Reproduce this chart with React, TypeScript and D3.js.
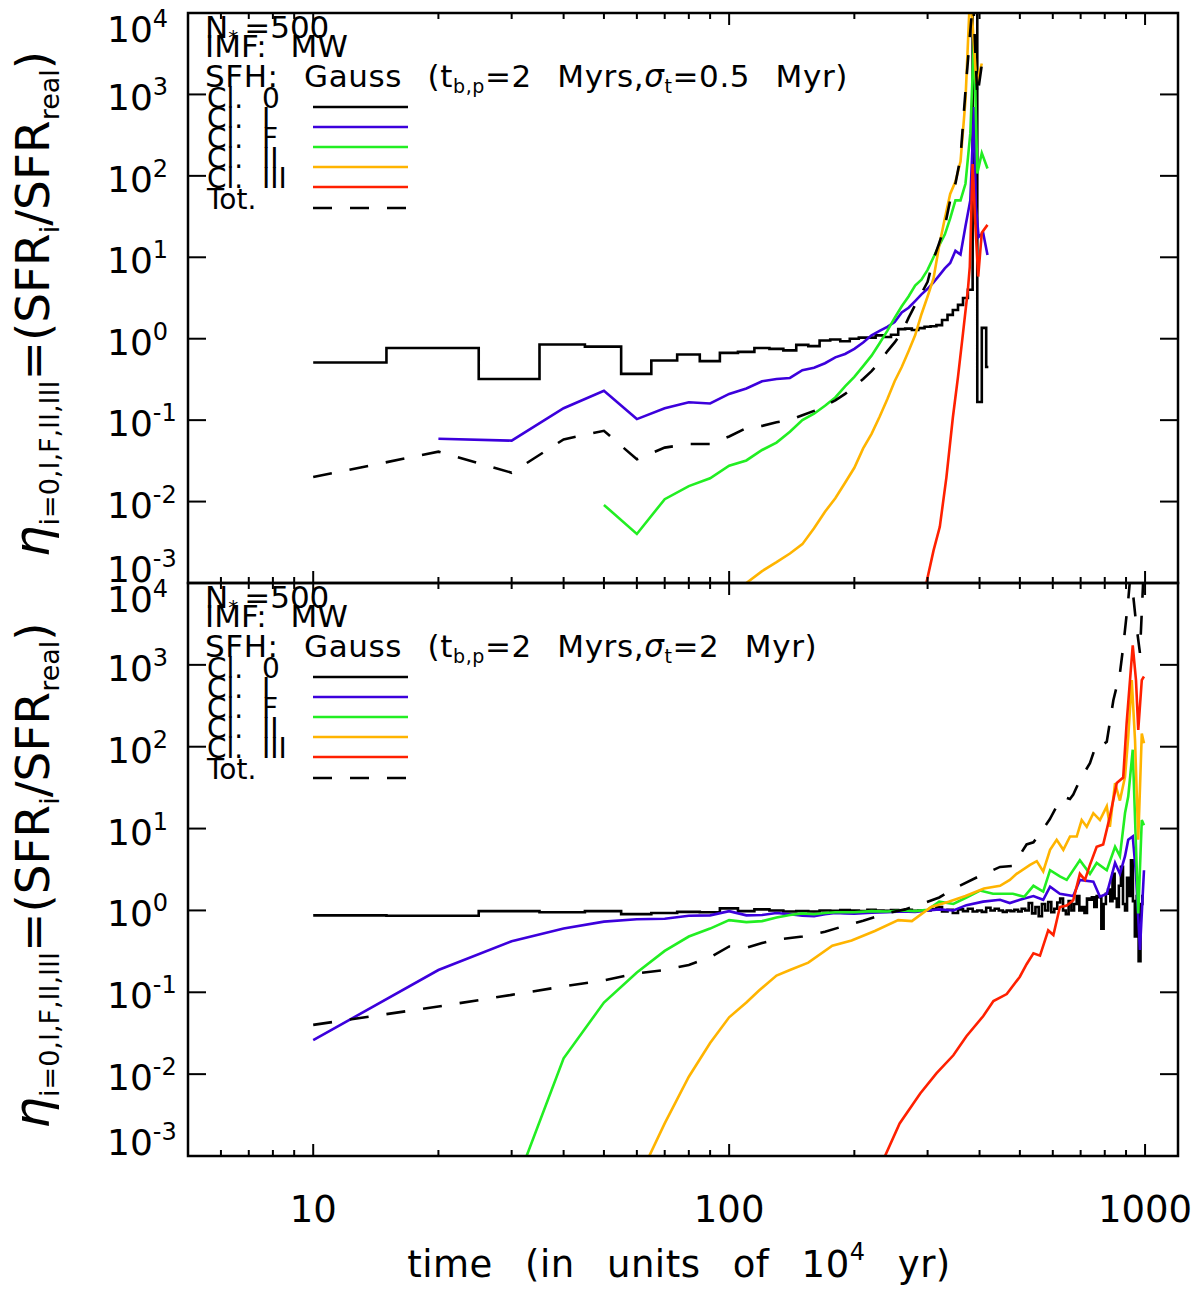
import { useEffect, useRef } from 'react';
import * as d3 from 'd3';

type Pt = [number, number];

// ---- top panel (sigma_t = 0.5 Myr) ----
const topCl0: Pt[] = [
  [10, 0.51], [20, 0.77], [30, 0.32], [40, 0.85], [50, 0.8], [60, 0.37], [70, 0.54], [80, 0.64],
  [90, 0.53], [100, 0.67], [110, 0.69], [120, 0.77], [130, 0.75], [140, 0.72], [150, 0.84],
  [160, 0.81], [170, 0.95], [180, 0.98], [190, 0.93], [200, 1.0], [210, 1.03], [220, 1.03],
  [230, 1.1], [240, 1.05], [250, 1.12], [260, 1.31], [270, 1.33], [280, 1.28], [290, 1.35],
  [300, 1.4], [310, 1.42], [320, 1.47], [330, 1.7], [340, 1.96], [350, 2.25], [360, 2.6],
  [370, 3.16], [380, 4.0], [390, 30000], [400, 0.167], [410, 1.36], [420, 0.45],
];
const topClI: Pt[] = [
  [20, 0.059], [30, 0.056], [40, 0.14], [50, 0.23], [60, 0.103], [70, 0.14], [80, 0.166],
  [90, 0.16], [100, 0.21], [110, 0.245], [120, 0.3], [130, 0.32], [140, 0.33], [150, 0.41],
  [160, 0.44], [170, 0.5], [180, 0.59], [190, 0.65], [200, 0.75], [210, 0.9], [220, 1.1],
  [230, 1.25], [240, 1.4], [250, 1.6], [260, 2.1], [270, 2.4], [280, 2.9], [290, 3.5],
  [300, 4.1], [310, 4.9], [320, 6.0], [330, 7.3], [340, 8.5], [350, 12], [360, 10.8],
  [370, 24], [380, 50], [388, 700], [392, 42], [398, 17.8], [408, 20], [418, 10.7],
];
const topClF: Pt[] = [
  [50, 0.0091], [60, 0.004], [70, 0.0107], [80, 0.0155], [90, 0.0193], [100, 0.0276],
  [110, 0.032], [120, 0.043], [130, 0.053], [140, 0.072], [150, 0.1], [160, 0.12], [170, 0.15],
  [180, 0.19], [190, 0.26], [200, 0.34], [210, 0.46], [220, 0.62], [230, 0.88], [240, 1.25],
  [250, 1.8], [260, 2.5], [270, 3.3], [280, 4.5], [290, 5.3], [300, 7.0], [310, 10], [320, 14],
  [330, 19], [340, 30], [350, 50], [360, 50], [370, 80], [380, 330], [388, 5100], [395, 107],
  [405, 190], [418, 123],
];
const topClII: Pt[] = [
  [100, 0.0007], [110, 0.001], [120, 0.0014], [130, 0.0018], [140, 0.0023], [150, 0.003],
  [160, 0.0047], [170, 0.0075], [180, 0.011], [190, 0.017], [200, 0.026], [210, 0.045],
  [220, 0.068], [230, 0.11], [240, 0.18], [250, 0.3], [260, 0.45], [270, 0.7], [280, 1.1],
  [290, 2.0], [300, 3.3], [310, 5.5], [320, 14], [330, 30], [340, 60], [350, 85], [360, 150],
  [370, 850], [380, 20000], [393, 1370], [405, 2400],
];
const topClIII: Pt[] = [
  [298, 0.001], [310, 0.0025], [321, 0.0049], [333, 0.02], [345, 0.107], [355, 0.34],
  [365, 1.17], [375, 4.0], [379, 7.7], [385, 140], [390, 31], [397, 5.8], [405, 20], [418, 25],
];
const topTot: Pt[] = [
  [10, 0.02], [20, 0.041], [30, 0.0226], [40, 0.058], [50, 0.074], [60, 0.033], [70, 0.046],
  [80, 0.051], [90, 0.051], [100, 0.063], [110, 0.08], [120, 0.085], [130, 0.094], [140, 0.1],
  [150, 0.115], [160, 0.13], [170, 0.15], [180, 0.175], [190, 0.21], [200, 0.26], [210, 0.32],
  [220, 0.4], [230, 0.52], [240, 0.7], [250, 0.9], [260, 1.2], [270, 1.8], [280, 2.6],
  [290, 3.6], [300, 5.0], [310, 9.5], [320, 15], [330, 24], [340, 50], [350, 80], [360, 170],
  [370, 1100], [380, 6000], [386, 15000], [395, 940], [405, 2300], [416, 2400],
];

// ---- bottom panel (sigma_t = 2 Myr) ----
const botCl0: Pt[] = [
  [10, 0.87], [20, 0.86], [30, 0.98], [40, 0.95], [50, 0.98], [60, 0.9], [70, 0.93], [80, 0.96],
  [90, 0.95], [100, 1.06], [110, 0.98], [120, 1.03], [130, 1.0], [140, 0.97], [150, 0.98],
  [160, 0.97], [170, 1.0], [180, 0.99], [190, 1.01], [200, 1.0], [210, 0.98], [220, 1.02],
  [230, 1.0], [240, 0.99], [250, 1.01], [260, 0.98], [270, 1.02], [280, 0.99], [290, 1.0],
  [300, 1.0], [310, 1.04], [320, 1.1], [330, 0.97], [340, 1.02], [350, 0.93], [360, 1.03],
  [370, 0.98], [380, 1.05], [390, 0.97], [400, 1.0], [410, 0.96], [420, 1.08], [430, 1.0],
  [440, 1.05], [450, 1.0], [460, 0.96], [470, 1.0], [480, 0.98], [490, 1.02], [500, 0.97],
  [510, 1.05], [520, 1.0], [530, 1.23], [540, 0.92], [550, 1.1], [560, 0.85], [570, 1.2],
  [580, 1.0], [590, 1.27], [600, 0.95], [610, 1.05], [620, 1.25], [630, 1.4], [640, 1.0],
  [650, 0.9], [660, 1.3], [670, 1.0], [680, 1.2], [690, 1.5], [700, 1.0], [710, 1.1],
  [720, 0.93], [730, 1.4], [740, 1.35], [750, 1.45], [760, 1.1], [770, 1.5], [780, 1.45],
  [790, 0.6], [800, 1.2], [810, 1.6], [820, 1.8], [830, 1.3], [840, 2.8], [850, 1.4],
  [860, 1.1], [870, 2.0], [880, 3.4], [890, 1.2], [900, 1.0], [910, 2.5], [920, 1.5],
  [930, 4.1], [940, 1.3], [950, 0.48], [960, 1.5], [970, 0.24], [980, 1.2], [990, 1.5],
];
const botClI: Pt[] = [
  [10, 0.026], [20, 0.187], [30, 0.42], [40, 0.6], [50, 0.73], [60, 0.78], [70, 0.79],
  [80, 0.86], [90, 0.87], [100, 0.98], [110, 0.87], [120, 0.88], [130, 0.93], [140, 0.9],
  [150, 0.86], [160, 0.85], [170, 0.9], [180, 0.93], [190, 0.92], [200, 0.91], [220, 0.94],
  [240, 0.95], [260, 0.97], [280, 0.96], [300, 1.0], [320, 1.03], [346, 1.0], [372, 1.16],
  [408, 1.28], [448, 1.35], [473, 1.23], [500, 1.35], [539, 1.5], [569, 1.35], [591, 1.95],
  [624, 1.6], [672, 1.5], [697, 2.36], [751, 2.25], [779, 1.47], [809, 1.6], [847, 3.8],
  [870, 2.8], [895, 4.6], [911, 7.3], [934, 8.0], [951, 2.8], [972, 0.33], [994, 3.1],
];
const botClF: Pt[] = [
  [30, 0.00033], [40, 0.0156], [50, 0.075], [60, 0.174], [70, 0.32], [80, 0.48], [90, 0.6],
  [100, 0.76], [110, 0.72], [120, 0.74], [130, 0.82], [140, 0.88], [150, 0.92], [160, 0.9],
  [170, 0.93], [180, 0.95], [200, 0.95], [220, 0.98], [240, 0.97], [260, 1.0], [280, 0.98],
  [300, 1.02], [320, 1.28], [346, 1.2], [372, 1.44], [401, 1.75], [431, 1.6], [448, 1.6],
  [481, 1.6], [512, 1.47], [539, 2.0], [569, 1.7], [591, 3.1], [624, 2.6], [648, 2.36],
  [697, 4.1], [737, 2.8], [765, 3.8], [809, 3.1], [847, 6.0], [870, 4.6], [895, 15.5],
  [911, 24.6], [934, 92], [951, 6.0], [963, 0.92], [982, 12.7], [994, 11],
];
const botClII: Pt[] = [
  [60, 0.00048], [70, 0.0025], [80, 0.0093], [90, 0.024], [100, 0.0495], [110, 0.075],
  [118, 0.105], [130, 0.16], [140, 0.187], [155, 0.23], [177, 0.37], [197, 0.43], [224, 0.56],
  [255, 0.76], [275, 0.74], [306, 1.1], [337, 1.28], [370, 1.5], [410, 1.85], [448, 2.0],
  [473, 2.36], [491, 2.8], [529, 3.6], [549, 4.0], [569, 3.0], [591, 5.5], [613, 7.3],
  [636, 5.5], [660, 8.0], [685, 8.0], [704, 12.7], [724, 10.5], [751, 15.4], [779, 12.7],
  [809, 18.7], [823, 10.5], [847, 36], [870, 22], [895, 43], [911, 131], [929, 650],
  [946, 120], [963, 7.3], [982, 145], [994, 110],
];
const botClIII: Pt[] = [
  [237, 0.001], [257, 0.0025], [288, 0.0058], [315, 0.0102], [346, 0.017], [372, 0.029],
  [408, 0.051], [432, 0.078], [465, 0.095], [500, 0.155], [519, 0.22], [539, 0.3], [559, 0.28],
  [585, 0.57], [602, 0.5], [624, 1.1], [648, 1.15], [672, 1.33], [697, 2.8], [717, 2.36],
  [737, 3.6], [765, 6.0], [793, 6.4], [823, 14], [855, 36], [886, 42], [903, 195], [920, 650],
  [934, 1730], [951, 650], [963, 160], [982, 650], [994, 720],
];
const botTot: Pt[] = [
  [10, 0.04], [20, 0.067], [30, 0.093], [40, 0.118], [50, 0.14], [60, 0.17], [70, 0.187],
  [80, 0.216], [90, 0.267], [100, 0.363], [110, 0.35], [120, 0.4], [130, 0.44], [150, 0.48],
  [170, 0.55], [190, 0.65], [210, 0.75], [240, 0.93], [265, 1.03], [290, 1.2], [320, 1.44],
  [356, 1.97], [401, 2.65], [448, 3.4], [481, 3.5], [519, 6.4], [539, 6.8], [560, 8.8],
  [590, 13], [613, 18.7], [636, 24.5], [660, 23], [672, 26], [697, 39], [737, 63], [765, 110],
  [790, 105], [809, 115], [839, 370], [870, 790], [886, 1660], [895, 2700], [911, 6200],
  [920, 11000], [934, 8000], [951, 3300], [972, 1400], [990, 11000],
];

const classNames = ['0', 'I', 'F', 'II', 'III'];
const classColors = ['#000000', '#3c00dc', '#22ee22', '#ffb400', '#ff2000'];
const yExponents = [-3, -2, -1, 0, 1, 2, 3, 4];
const xMajorTicks = [10, 100, 1000];
const xMinorTicks = [6, 7, 8, 9, 20, 30, 40, 50, 60, 70, 80, 90, 200, 300, 400, 500, 600, 700, 800, 900];

const panels = [
  { top: 13, bottom: 583, sigma: '0.5', series: [topCl0, topClI, topClF, topClII, topClIII, topTot] },
  { top: 583, bottom: 1156, sigma: '2', series: [botCl0, botClI, botClF, botClII, botClIII, botTot] },
];

const FONT = 'DejaVu Sans, Verdana, sans-serif';

// histogram-style steps, edges half way between samples
function toSteps(data: Pt[]): Pt[] {
  const out: Pt[] = [];
  data.forEach((d, i) => {
    const a = i === 0 ? d[0] : (data[i - 1][0] + d[0]) / 2;
    const b = i === data.length - 1 ? d[0] : (d[0] + data[i + 1][0]) / 2;
    out.push([a, d[1]], [b, d[1]]);
  });
  return out;
}

export default function App() {
  const svgRef = useRef<SVGSVGElement>(null);

  useEffect(() => {
    if (!svgRef.current) return;
    const svg = d3.select(svgRef.current);
    svg.selectAll('*').remove();

    const left = 188;
    const right = 1178;
    const x = d3.scaleLog().domain([5, 1200]).range([left, right]);
    const defs = svg.append('defs');

    panels.forEach((p, pi) => {
      const y = d3.scaleLog().domain([1e-3, 1e4]).range([p.bottom, p.top]);

      defs.append('clipPath').attr('id', `clip${pi}`)
        .append('rect')
        .attr('x', left).attr('y', p.top)
        .attr('width', right - left).attr('height', p.bottom - p.top);

      const plot = svg.append('g').attr('clip-path', `url(#clip${pi})`);
      const line = d3.line<Pt>().x(d => x(d[0])).y(d => y(d[1]));

      // class 0 is a histogram
      plot.append('path')
        .datum(toSteps(p.series[0]))
        .attr('fill', 'none')
        .attr('stroke', classColors[0])
        .attr('stroke-width', 2.6)
        .attr('d', line);

      for (let i = 1; i < 5; i++) {
        plot.append('path')
          .datum(p.series[i])
          .attr('fill', 'none')
          .attr('stroke', classColors[i])
          .attr('stroke-width', 2.6)
          .attr('d', line);
      }

      plot.append('path')
        .datum(p.series[5])
        .attr('fill', 'none')
        .attr('stroke', '#000')
        .attr('stroke-width', 2.6)
        .attr('stroke-dasharray', '19,18')
        .attr('d', line);

      // frame
      svg.append('rect')
        .attr('x', left).attr('y', p.top)
        .attr('width', right - left).attr('height', p.bottom - p.top)
        .attr('fill', 'none').attr('stroke', '#000').attr('stroke-width', 2.5);

      const ticks = svg.append('g').attr('stroke', '#000').attr('stroke-width', 2);
      const xt = [...xMajorTicks.map(v => ({ v, len: 12 })), ...xMinorTicks.map(v => ({ v, len: 6 }))];
      xt.forEach(t => {
        ticks.append('line').attr('x1', x(t.v)).attr('x2', x(t.v)).attr('y1', p.top).attr('y2', p.top + t.len);
        ticks.append('line').attr('x1', x(t.v)).attr('x2', x(t.v)).attr('y1', p.bottom).attr('y2', p.bottom - t.len);
      });
      yExponents.forEach(e => {
        const yy = y(Math.pow(10, e));
        ticks.append('line').attr('x1', left).attr('x2', left + 18).attr('y1', yy).attr('y2', yy);
        ticks.append('line').attr('x1', right).attr('x2', right - 18).attr('y1', yy).attr('y2', yy);

        let cy = yy + 3;
        if (e === 4) cy = yy + 16;
        if (e === -3) cy = yy - 14;
        const lab = svg.append('text')
          .attr('x', 107).attr('y', cy + 13)
          .attr('font-family', FONT).attr('font-size', 36).attr('fill', '#000');
        lab.append('tspan').text('10');
        lab.append('tspan').attr('font-size', 24).attr('dy', -15).text(`${e}`);
      });

      // y axis title
      const yt = svg.append('text')
        .attr('transform', `translate(49,${(p.top + p.bottom) / 2 + 6}) rotate(-90)`)
        .attr('text-anchor', 'middle')
        .attr('font-family', FONT).attr('font-size', 47).attr('fill', '#000');
      yt.append('tspan').attr('font-size', 50).attr('font-style', 'italic').text('η');
      yt.append('tspan').attr('font-size', 27).attr('dy', 10).text('i=0,I,F,II,III');
      yt.append('tspan').attr('dy', -10).text('=(SFR');
      yt.append('tspan').attr('font-size', 27).attr('dy', 10).text('i');
      yt.append('tspan').attr('dy', -10).text('/SFR');
      yt.append('tspan').attr('font-size', 27).attr('dy', 10).text('real');
      yt.append('tspan').attr('dy', -10).text(')');

      // legend block
      const lg = svg.append('g').attr('font-family', FONT).attr('fill', '#000');
      const t1 = lg.append('text').attr('x', 205).attr('y', p.top + 25).attr('font-size', 31);
      t1.append('tspan').text('N');
      t1.append('tspan').attr('font-size', 20).attr('dy', 6).text('*');
      t1.append('tspan').attr('dy', -6).attr('dx', 6).text('=500');

      lg.append('text').attr('x', 205).attr('y', p.top + 44).attr('font-size', 31)
        .attr('word-spacing', 14).text('IMF: MW');

      const t3 = lg.append('text').attr('x', 205).attr('y', p.top + 74).attr('font-size', 31)
        .attr('word-spacing', 15).attr('letter-spacing', 0.6);
      t3.append('tspan').text('SFH: Gauss (t');
      t3.append('tspan').attr('font-size', 19).attr('dy', 6).text('b,p');
      t3.append('tspan').attr('dy', -6).text('=2 Myrs,');
      t3.append('tspan').attr('font-style', 'italic').text('σ');
      t3.append('tspan').attr('font-size', 19).attr('dy', 6).text('t');
      t3.append('tspan').attr('dy', -6).text(`=${p.sigma} Myr)`);

      classNames.forEach((name, i) => {
        const by = p.top + 95 + 20 * i;
        lg.append('text').attr('x', 207).attr('y', by).attr('font-size', 28).text('Cl.');
        lg.append('text').attr('x', 262).attr('y', by).attr('font-size', 28).text(name);
        lg.append('line')
          .attr('x1', 313).attr('x2', 408).attr('y1', by - 1).attr('y2', by - 1)
          .attr('stroke', classColors[i]).attr('stroke-width', 2.6);
      });
      const ty = p.top + 196;
      lg.append('text').attr('x', 207).attr('y', ty).attr('font-size', 28).text('Tot.');
      lg.append('line')
        .attr('x1', 313).attr('x2', 408).attr('y1', ty - 1).attr('y2', ty - 1)
        .attr('stroke', '#000').attr('stroke-width', 2.6).attr('stroke-dasharray', '19,18');

      if (pi === 1) {
        xMajorTicks.forEach(v => {
          svg.append('text')
            .attr('x', x(v)).attr('y', 1222)
            .attr('text-anchor', 'middle')
            .attr('font-family', FONT).attr('font-size', 37).attr('fill', '#000')
            .text(`${v}`);
        });
        const xl = svg.append('text')
          .attr('x', 679).attr('y', 1277)
          .attr('text-anchor', 'middle')
          .attr('font-family', FONT).attr('font-size', 37).attr('fill', '#000')
          .attr('word-spacing', 20).attr('letter-spacing', 0.5);
        xl.append('tspan').text('time (in units of 10');
        xl.append('tspan').attr('font-size', 24).attr('dy', -17).text('4');
        xl.append('tspan').attr('dy', 17).text(' yr)');
      }
    });
  }, []);

  return (
    <svg
      ref={svgRef}
      width={1200}
      height={1290}
      style={{ position: 'absolute', left: 0, top: 0, background: '#fff' }}
    />
  );
}
